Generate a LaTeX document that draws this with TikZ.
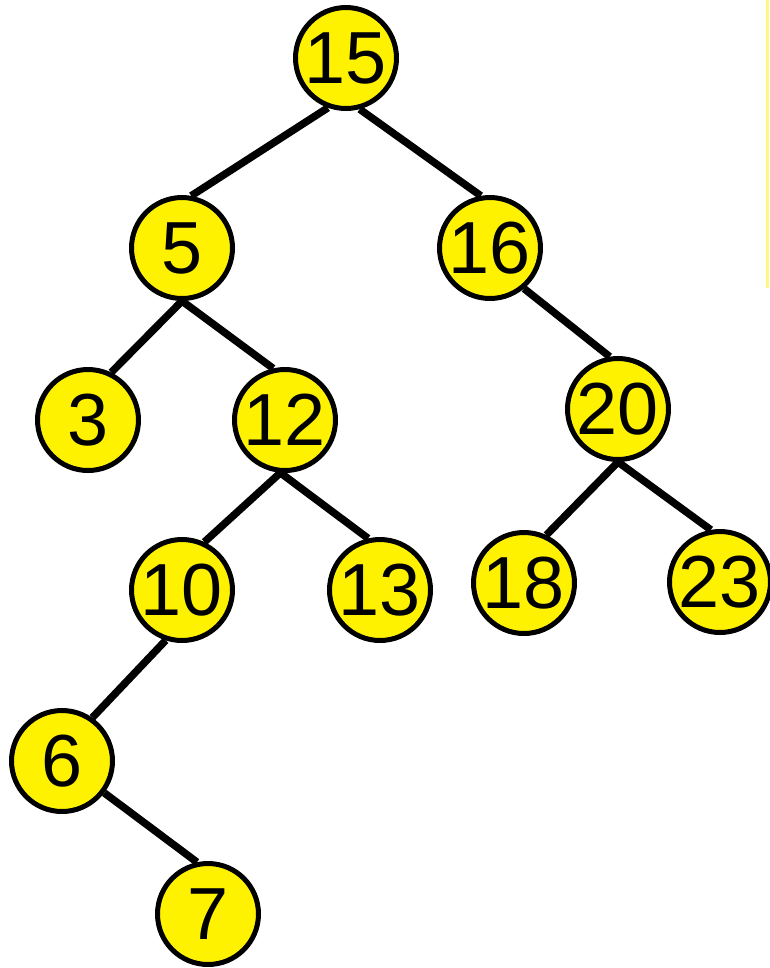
\documentclass[tikz,border=0pt]{standalone}
\usepackage{fontspec}
\setmainfont{Liberation Sans}
\begin{document}
\begin{tikzpicture}[
    x=0.02cm, y=-0.02cm,
    vertex/.style={draw, circle, fill=yellow, line width=0.1cm, inner sep=0pt,
                   minimum size=2.02cm, font=\fontsize{42}{42}\selectfont},
    branch/.style={line width=0.15cm}
]
\useasboundingbox (0,0) rectangle (769,968);

% the faint bar at the top right
\fill[yellow!50] (766,0) rectangle (769,288);

% Define the tree nodes at pixel coordinates
\node[vertex] (n15) at (346,58) {15};
\node[vertex] (n5) at (182,248) {5};
\node[vertex] (n16) at (490,248) {16};
\node[vertex] (n3) at (88,420) {3};
\node[vertex] (n12) at (285,420) {12};
\node[vertex] (n20) at (618,409) {20};
\node[vertex] (n10) at (182,590) {10};
\node[vertex] (n13) at (380,590) {13};
\node[vertex] (n18) at (524,583) {18};
\node[vertex] (n23) at (720,582) {23};
\node[vertex] (n6) at (62,761) {6};
\node[vertex] (n7) at (208,914) {7};

% Draw branches (parent anchor to child anchor)
\draw[branch] (n15.250) -- (n5.80);
\draw[branch] (n15.285) -- (n16.100);
\draw[branch] (n5.south) -- (n3.64);
\draw[branch] (n5.south) -- (n12.103);
\draw[branch] (n16.310) -- (n20.99);
\draw[branch] (n12.265) -- (n10.65);
\draw[branch] (n12.265) -- (n13.103);
\draw[branch] (n20.south) -- (n18.65);
\draw[branch] (n20.south) -- (n23.100);
\draw[branch] (n10.252) -- (n6.55);
\draw[branch] (n6.323) -- (n7.102);

\end{tikzpicture}
\end{document}
